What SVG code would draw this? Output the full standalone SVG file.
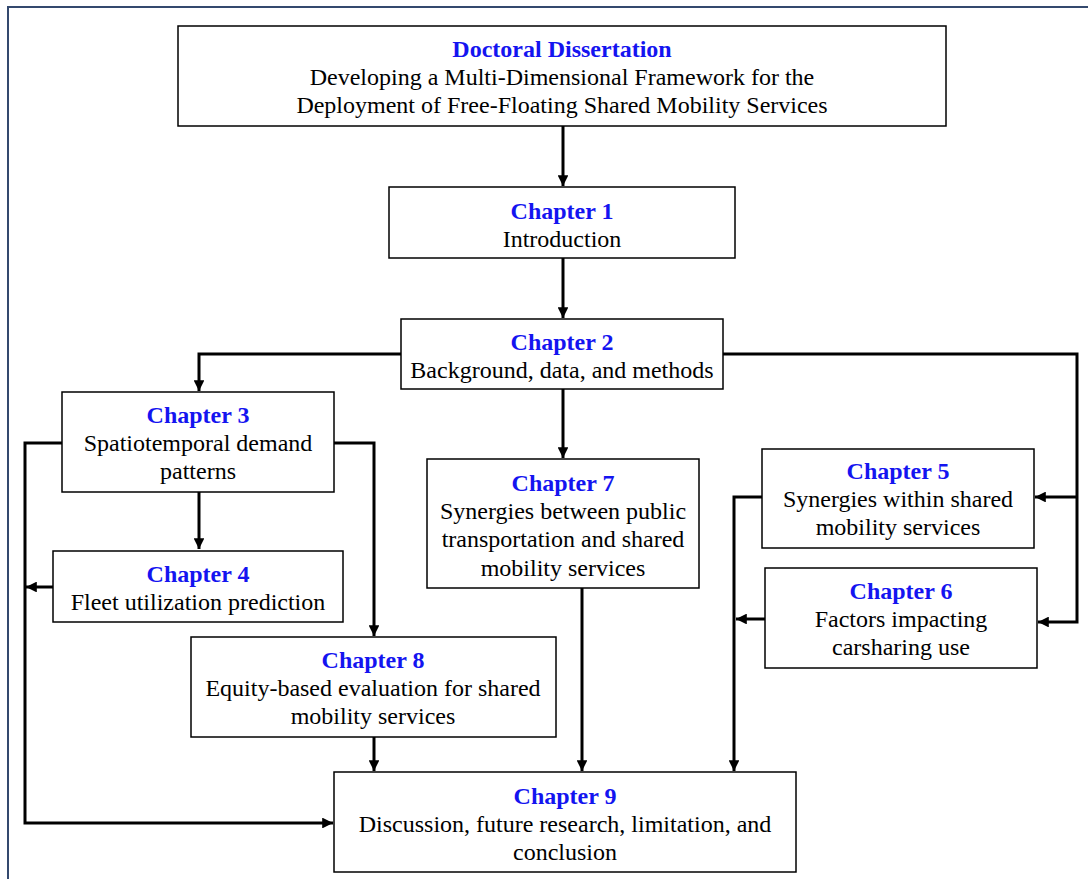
<svg xmlns="http://www.w3.org/2000/svg" width="1088" height="879" viewBox="0 0 1088 879">
<style>
.box{fill:#fff;stroke:#000;stroke-width:1.5}
.t{font-family:"Liberation Serif","Times New Roman",serif;font-size:24px;fill:#000;text-anchor:middle}
.h{font-weight:bold;fill:#1414F0}
.c{fill:none;stroke:#000;stroke-width:3}
</style>
<defs>
<marker id="ah" viewBox="0 0 10 10" refX="10" refY="5" markerWidth="3.6" markerHeight="3.6" orient="auto" markerUnits="strokeWidth">
<path d="M0,0 L10,5 L0,10 Z" fill="#000"/>
</marker>
</defs>
<rect x="0" y="0" width="1088" height="879" fill="#fff"/>
<rect x="8" y="7" width="1095" height="890" fill="none" stroke="#34496E" stroke-width="2"/>
<g id="connectors">
<path class="c" d="M563,126 V186" marker-end="url(#ah)"/>
<path class="c" d="M563,258 V318" marker-end="url(#ah)"/>
<path class="c" d="M401,354 H199 V391" marker-end="url(#ah)"/>
<path class="c" d="M563,389 V458" marker-end="url(#ah)"/>
<path class="c" d="M723,354 H1077 V622 H1038" marker-end="url(#ah)"/>
<path class="c" d="M1077,497 H1035" marker-end="url(#ah)"/>
<path class="c" d="M199,492 V549" marker-end="url(#ah)"/>
<path class="c" d="M62,443 H25 V823 H333" marker-end="url(#ah)"/>
<path class="c" d="M53,587 H26" marker-end="url(#ah)"/>
<path class="c" d="M334,443 H374 V636" marker-end="url(#ah)"/>
<path class="c" d="M374,737 V771" marker-end="url(#ah)"/>
<path class="c" d="M582,588 V771" marker-end="url(#ah)"/>
<path class="c" d="M762,497 H734 V771" marker-end="url(#ah)"/>
<path class="c" d="M765,619 H736" marker-end="url(#ah)"/>
</g>
<g id="doctoral">
<rect class="box" x="178" y="26" width="768" height="100"/>
<text class="t h" x="562" y="57">Doctoral Dissertation</text>
<text class="t" x="562" y="85">Developing a Multi-Dimensional Framework for the</text>
<text class="t" x="562" y="113">Deployment of Free-Floating Shared Mobility Services</text>
</g>
<g id="ch1">
<rect class="box" x="389" y="187" width="346" height="71"/>
<text class="t h" x="562" y="219">Chapter 1</text>
<text class="t" x="562" y="247">Introduction</text>
</g>
<g id="ch2">
<rect class="box" x="401" y="319" width="322" height="70"/>
<text class="t h" x="562" y="350">Chapter 2</text>
<text class="t" x="562" y="378">Background, data, and methods</text>
</g>
<g id="ch3">
<rect class="box" x="62" y="392" width="272" height="100"/>
<text class="t h" x="198" y="423">Chapter 3</text>
<text class="t" x="198" y="451">Spatiotemporal demand</text>
<text class="t" x="198" y="479">patterns</text>
</g>
<g id="ch4">
<rect class="box" x="53" y="551" width="290" height="71"/>
<text class="t h" x="198" y="582">Chapter 4</text>
<text class="t" x="198" y="610">Fleet utilization prediction</text>
</g>
<g id="ch5">
<rect class="box" x="762" y="449" width="272" height="99"/>
<text class="t h" x="898" y="479">Chapter 5</text>
<text class="t" x="898" y="507">Synergies within shared</text>
<text class="t" x="898" y="535">mobility services</text>
</g>
<g id="ch6">
<rect class="box" x="765" y="568" width="272" height="100"/>
<text class="t h" x="901" y="599">Chapter 6</text>
<text class="t" x="901" y="627">Factors impacting</text>
<text class="t" x="901" y="655">carsharing use</text>
</g>
<g id="ch7">
<rect class="box" x="427" y="459" width="272" height="129"/>
<text class="t h" x="563" y="491">Chapter 7</text>
<text class="t" x="563" y="519">Synergies between public</text>
<text class="t" x="563" y="547">transportation and shared</text>
<text class="t" x="563" y="576">mobility services</text>
</g>
<g id="ch8">
<rect class="box" x="191" y="637" width="365" height="100"/>
<text class="t h" x="373" y="668">Chapter 8</text>
<text class="t" x="373" y="696">Equity-based evaluation for shared</text>
<text class="t" x="373" y="724">mobility services</text>
</g>
<g id="ch9">
<rect class="box" x="334" y="772" width="462" height="100"/>
<text class="t h" x="565" y="804">Chapter 9</text>
<text class="t" x="565" y="832">Discussion, future research, limitation, and</text>
<text class="t" x="565" y="860">conclusion</text>
</g>
</svg>
